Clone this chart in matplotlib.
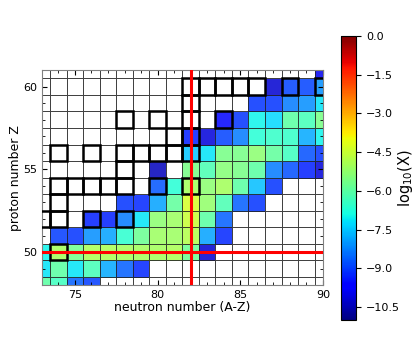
import numpy as np
import matplotlib
matplotlib.use('Agg')
import matplotlib.pyplot as plt
from matplotlib.patches import Rectangle
from matplotlib.colors import Normalize

nan = np.nan

# neutron numbers (columns) and proton numbers (rows)
neutrons = list(range(73, 91))
protons = list(range(48, 62))

# log10(X) for N = 73..90, one list per proton number, nan = no value
z48 = [-6.0, -6.4, -8.6, -9.0, nan, nan, nan, nan, nan, nan, nan, nan, nan, nan, nan, nan, nan, nan]
z49 = [-7.15, -6.0, -7.15, -6.3, -7.8, -8.6, -9.2, nan, nan, nan, nan, nan, nan, nan, nan, nan, nan, nan]
z50 = [-7.0, -5.0, -5.7, -4.9, -4.9, -5.0, -5.0, -5.0, -4.9, -5.8, -10.2, nan, nan, nan, nan, nan, nan, nan]
z51 = [nan, -9.0, -9.1, -8.1, -7.9, -6.6, -5.8, -5.1, -5.1, -4.8, -7.9, -9.2, nan, nan, nan, nan, nan, nan]
z52 = [nan, nan, nan, -9.3, -9.3, -8.3, -7.15, -5.3, -5.1, -4.5, -6.0, -8.6, nan, nan, nan, nan, nan, nan]
z53 = [nan, nan, nan, nan, nan, -9.1, -9.2, -7.9, -5.9, -4.3, -5.2, -6.2, -8.6, -9.1, nan, nan, nan, nan]
z54 = [nan, nan, nan, nan, nan, nan, nan, -8.7, -6.7, -5.0, -5.3, -5.0, -6.0, -7.6, -9.1, nan, nan, nan]
z55 = [nan, nan, nan, nan, nan, nan, nan, -10.4, nan, -5.6, -6.2, -5.4, -5.6, -6.0, -8.3, -8.8, -9.3, -10.1]
z56 = [nan, nan, nan, nan, nan, nan, nan, nan, nan, -7.5, -7.15, -5.6, -5.6, -5.3, -5.9, -6.4, -8.8, -9.1]
z57 = [nan, nan, nan, nan, nan, nan, nan, nan, nan, -9.3, -10.1, -8.9, -8.3, -6.7, -6.5, -6.5, -7.8, -7.0]
z58 = [nan, nan, nan, nan, nan, nan, nan, nan, nan, nan, nan, -9.6, -9.1, -7.0, -7.3, -6.0, -6.3, -5.6]
z59 = [nan, nan, nan, nan, nan, nan, nan, nan, nan, nan, nan, nan, nan, -9.1, -9.1, -8.3, -8.1, -7.15]
z60 = [nan, nan, nan, nan, nan, nan, nan, nan, nan, nan, nan, nan, nan, nan, -10.2, -8.9, -8.9, -8.1]
z61 = [nan, nan, nan, nan, nan, nan, nan, nan, nan, nan, nan, nan, nan, nan, nan, nan, nan, -9.9]

# stable nuclei (thick boxes)
stable_n = [74, 73, 74, 76, 78, 74, 74, 75, 76, 77, 78, 80, 82, 78,
            74, 76, 78, 79, 80, 81, 82, 81, 82, 78, 80, 82, 84, 82,
            82, 83, 84, 85, 86, 88, 90]
stable_z = [50, 52, 52, 52, 52, 53, 54, 54, 54, 54, 54, 54, 54, 55,
            56, 56, 56, 56, 56, 56, 56, 57, 57, 58, 58, 58, 58, 59,
            60, 60, 60, 60, 60, 60, 60]

magic_n = 82
magic_z = 50

data = np.ma.masked_invalid(np.array([z48, z49, z50, z51, z52, z53, z54,
                                      z55, z56, z57, z58, z59, z60, z61]))

cmap = plt.get_cmap('jet').copy()
cmap.set_bad('white')
norm = Normalize(vmin=-11, vmax=0)

fig = plt.figure(figsize=(4.15, 3.56), dpi=100)
ax = fig.add_axes([0.101, 0.199, 0.677, 0.604])

mesh = ax.pcolormesh(neutrons, protons, data, shading='nearest', cmap=cmap,
                     norm=norm, edgecolors='0.15', linewidth=0.7, alpha=0.85)

for n, z in zip(stable_n, stable_z):
    ax.add_patch(Rectangle((n - 0.5, z - 0.5), 1, 1, fill=False,
                           edgecolor='k', linewidth=1.8, zorder=3))

ax.axvline(magic_n, color='red', linewidth=2.2, zorder=4)
ax.axhline(magic_z, color='red', linewidth=2.2, zorder=4)

ax.set_xlim(73, 90)
ax.set_ylim(48, 61)
ax.set_xticks([75, 80, 85, 90])
ax.set_yticks([50, 55, 60])
ax.set_xticks(np.arange(73, 91), minor=True)
ax.set_yticks(np.arange(48, 62), minor=True)
ax.tick_params(which='both', direction='in', top=True, right=True, labelsize=8)
ax.tick_params(which='minor', length=2)
ax.set_xlabel('neutron number (A-Z)', fontsize=9, labelpad=1)
ax.set_ylabel('proton number Z', fontsize=9, labelpad=1)
for s in ax.spines.values():
    s.set_color('0.5')

cax = fig.add_axes([0.822, 0.101, 0.036, 0.798])
sm = plt.cm.ScalarMappable(norm=norm, cmap=cmap)
cb = fig.colorbar(sm, cax=cax, ticks=np.arange(0, -11, -1.5))
cb.ax.tick_params(labelsize=8)
cb.set_label('log$_{10}$(X)', fontsize=10.5, labelpad=-3)

fig.savefig('out.png', dpi=100)
